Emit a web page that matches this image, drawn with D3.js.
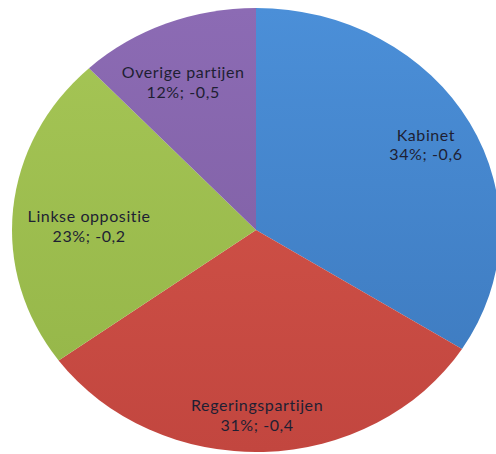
<!DOCTYPE html>
<html>
<head>
<meta charset="utf-8">
<script src="https://cdn.jsdelivr.net/npm/d3@7"></script>
<style>
  html, body { margin: 0; padding: 0; background: #ffffff; }
  svg { display: block; }
</style>
</head>
<body>
<svg id="chart" width="496" height="454"></svg>
<script>
// ---- data ----
const categories = ["Kabinet", "Regeringspartijen", "Linkse oppositie", "Overige partijen"];
const shares = [34, 31, 23, 12];
const shareLabels = ["34%", "31%", "23%", "12%"];
const scores = ["-0,6", "-0,4", "-0,2", "-0,5"];

// ---- layout / style ----
const cx = 256, cy = 230;
const rx = 244, ry = 222;
const colorsTop = ["#4B8FD8", "#D6574B", "#A6C656", "#8C6BB4"];
const colorsBot = ["#3C78BC", "#C2463F", "#93B447", "#7B5C9F"];
const labelFrac = [0.783, 0.86, 0.684, 0.706];
const labelShiftDeg = [1.6, 1.5, -6.1, -3.4];
const lineGap = 19.5;

const svg = d3.select("#chart");
const defs = svg.append("defs");
categories.forEach((c, i) => {
  const g = defs.append("linearGradient")
    .attr("id", "grad" + i)
    .attr("gradientUnits", "userSpaceOnUse")
    .attr("x1", 0).attr("y1", -ry).attr("x2", 0).attr("y2", ry);
  g.append("stop").attr("offset", "0%").attr("stop-color", colorsTop[i]);
  g.append("stop").attr("offset", "100%").attr("stop-color", colorsBot[i]);
});

const pie = d3.pie().sort(null).value(d => d)(shares);
const arc = d3.arc().innerRadius(0).outerRadius(ry);

const pieG = svg.append("g")
  .attr("transform", `translate(${cx},${cy}) scale(${rx / ry},1)`);

pieG.selectAll("path")
  .data(pie)
  .join("path")
  .attr("d", arc)
  .attr("fill", (d, i) => `url(#grad${i})`);

// labels
const labelG = svg.append("g").attr("transform", `translate(${cx},${cy})`);
pie.forEach((d, i) => {
  const mid = (d.startAngle + d.endAngle) / 2 + labelShiftDeg[i] * Math.PI / 180;
  const f = labelFrac[i];
  const x = Math.sin(mid) * rx * f;
  const y = -Math.cos(mid) * ry * f;
  const lines = [categories[i], shareLabels[i] + "; " + scores[i]];
  lines.forEach((txt, k) => {
    labelG.append("text")
      .attr("x", x)
      .attr("y", y + (k === 0 ? -lineGap / 2 : lineGap / 2))
      .attr("text-anchor", "middle")
      .attr("font-family", "Lato, 'Open Sans', sans-serif")
      .attr("font-size", 16)
      .attr("letter-spacing", 0.6)
      .attr("fill", "#1E1F33")
      .text(txt);
  });
});
</script>
</body>
</html>
